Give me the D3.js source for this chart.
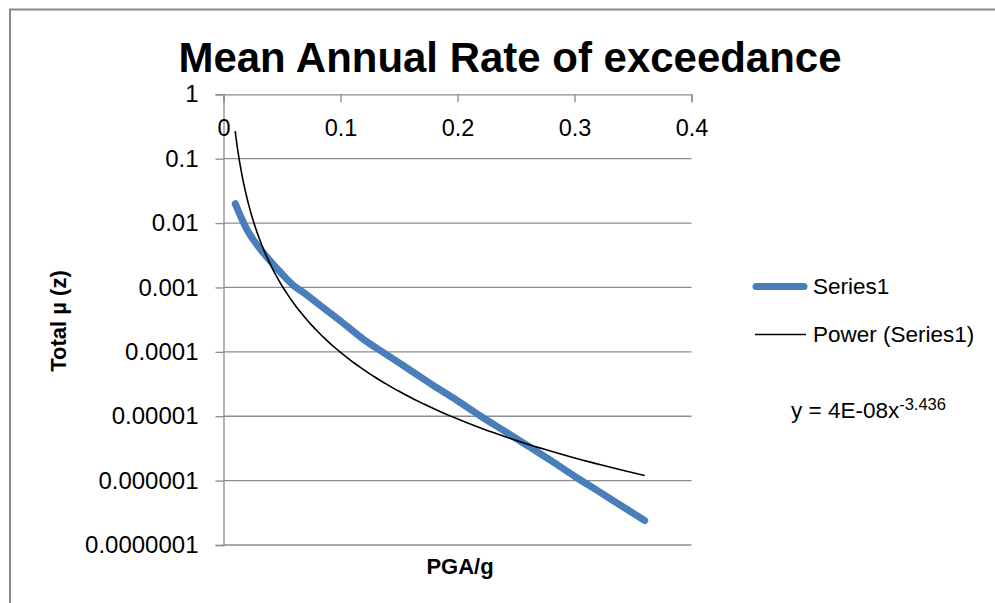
<!DOCTYPE html>
<html><head><meta charset="utf-8">
<script src="https://cdn.jsdelivr.net/npm/d3@7/dist/d3.min.js"></script>
<style>html,body{margin:0;padding:0;background:#fff;} svg{display:block;font-family:"Liberation Sans",Arial,sans-serif;}</style>
</head><body><svg id="chart" width="995" height="603"></svg>
<script>
// ---- data ----
const pga = [0.01,0.02,0.03,0.04,0.05,0.06,0.07,0.08,0.09,0.10,0.12,0.14,0.16,0.18,0.20,0.22,0.24,0.26,0.28,0.30,0.32,0.34,0.36];
const series1 = [0.0200,0.00794,0.00427,0.00257,0.00162,0.00107,0.000794,0.000575,0.000417,0.000302,0.000155,8.91e-5,5.13e-5,2.95e-5,1.74e-5,1.0e-5,5.89e-6,3.47e-6,2.04e-6,1.17e-6,6.92e-7,4.07e-7,2.40e-7];
const xTicks = [0,0.1,0.2,0.3,0.4];
const xTickLabels = ["0","0.1","0.2","0.3","0.4"];
const yTicks = [1,0.1,0.01,0.001,0.0001,0.00001,0.000001,0.0000001];
const yTickLabels = ["1","0.1","0.01","0.001","0.0001","0.00001","0.000001","0.0000001"];
const trendA = 3.6e-8;     // power trendline coefficient (shown rounded as 4E-08)
const trendB = -3.436;     // power trendline exponent
const titleText = "Mean Annual Rate of exceedance";
const xTitle = "PGA/g";
const yTitle = "Total µ (z)";
const legendLabels = ["Series1","Power (Series1)"];
const eqMain = "y = 4E-08x";
const eqExp = "-3.436";

// ---- layout ----
const svg = d3.select("#chart");
const x = d3.scaleLinear().domain([0,0.4]).range([223.5,691.5]);
const y = d3.scaleLog().domain([1e-7,1]).range([545,94.3]);
const grid = "#8c8c8c";
const blue = "#4a7ebb";
const ff = "Liberation Sans, Arial, sans-serif";

// outer chart border
svg.append("path").attr("d","M10,603 V9.5 H995").attr("fill","none").attr("stroke","#8a8a8a").attr("stroke-width",2);

// title
svg.append("text").attr("x",510).attr("y",72).attr("text-anchor","middle")
  .attr("font-size",43).attr("font-weight","bold").attr("fill","#000")
  .attr("textLength",663).attr("lengthAdjust","spacingAndGlyphs").text(titleText);

// horizontal gridlines
svg.append("g").selectAll("line").data(yTicks.slice(1)).join("line")
  .attr("x1",x(0)).attr("x2",x(0.4)).attr("y1",d=>y(d)).attr("y2",d=>y(d))
  .attr("stroke",grid).attr("stroke-width",1.3);

// y axis (left)
const yAxis = d3.axisLeft(y).tickValues(yTicks).tickFormat((d,i)=>yTickLabels[i]).tickSize(8).tickPadding(17);
const gy = svg.append("g").attr("transform",`translate(${x(0)},0)`).call(yAxis);
gy.select(".domain").attr("stroke",grid).attr("stroke-width",1.3);
gy.selectAll(".tick line").attr("stroke",grid).attr("stroke-width",1.3);
gy.selectAll(".tick text").attr("font-size",24).attr("fill","#000").attr("font-family",ff);

// x axis (at top, y = 1), ticks pointing down
const xAxis = d3.axisBottom(x).tickValues(xTicks).tickFormat((d,i)=>xTickLabels[i]).tickSizeInner(8).tickSizeOuter(8).tickPadding(17);
const gx = svg.append("g").attr("transform",`translate(0,${y(1)})`).call(xAxis);
gx.select(".domain").attr("stroke",grid).attr("stroke-width",1.3);
gx.selectAll(".tick line").attr("stroke",grid).attr("stroke-width",1.3);
gx.selectAll(".tick text").attr("font-size",23.5).attr("fill","#000").attr("font-family",ff);

// Series1
const data = pga.map((p,i)=>({x:p,y:series1[i]}));
svg.append("path").datum(data)
  .attr("d",d3.line().x(d=>x(d.x)).y(d=>y(d.y)).curve(d3.curveMonotoneX))
  .attr("fill","none").attr("stroke",blue).attr("stroke-width",7)
  .attr("stroke-linecap","round").attr("stroke-linejoin","round");

// Power trendline over the series' x range
const x0 = pga[0], x1 = pga[pga.length-1];
const trend = d3.range(0,201).map(k=>{const xv = x0*Math.pow(x1/x0,k/200); return {x:xv,y:trendA*Math.pow(xv,trendB)};});
svg.append("path").datum(trend)
  .attr("d",d3.line().x(d=>x(d.x)).y(d=>y(d.y)))
  .attr("fill","none").attr("stroke","#000").attr("stroke-width",1.6);

// axis titles
svg.append("text").attr("x",460).attr("y",574).attr("text-anchor","middle")
  .attr("font-size",22).attr("font-weight","bold").text(xTitle);
svg.append("text").attr("transform","translate(66,321) rotate(-90)").attr("text-anchor","middle")
  .attr("font-size",22).attr("font-weight","bold").text(yTitle);

// legend
const lg = svg.append("g");
lg.append("line").attr("x1",756).attr("x2",804).attr("y1",286.5).attr("y2",286.5)
  .attr("stroke",blue).attr("stroke-width",7).attr("stroke-linecap","round");
lg.append("text").attr("x",813).attr("y",286.5).attr("dy","0.35em").attr("font-size",22.5).text(legendLabels[0]);
lg.append("line").attr("x1",755).attr("x2",806).attr("y1",334.5).attr("y2",334.5)
  .attr("stroke","#000").attr("stroke-width",1.6);
lg.append("text").attr("x",813).attr("y",334.5).attr("dy","0.35em").attr("font-size",22.5).text(legendLabels[1]);

// trendline equation
const eq = svg.append("text").attr("x",791).attr("y",418).attr("font-size",22.5);
eq.append("tspan").text(eqMain);
eq.append("tspan").attr("font-size",16.5).attr("dy",-8).text(eqExp);
</script></body></html>
